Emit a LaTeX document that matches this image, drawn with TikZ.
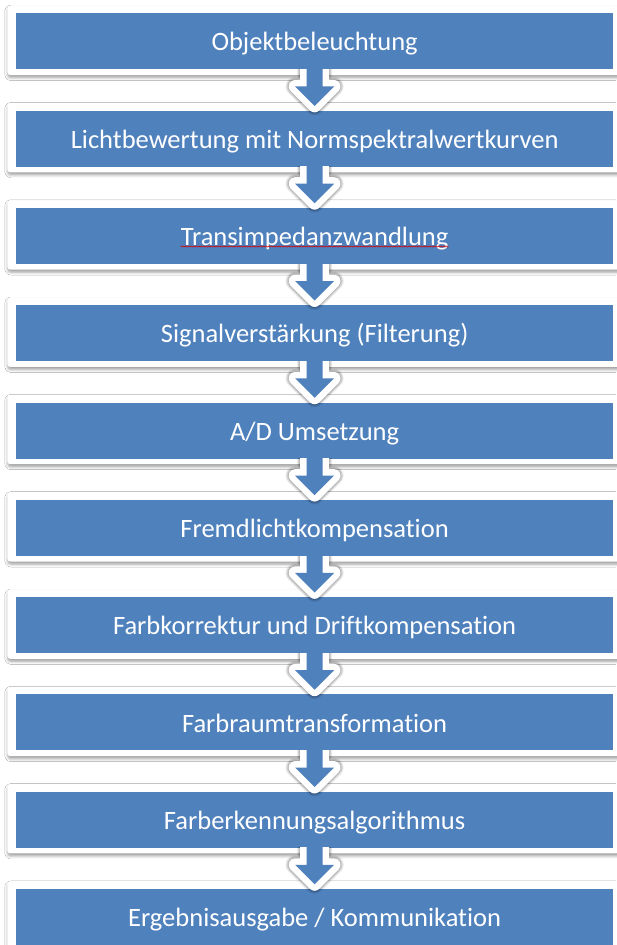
\documentclass[tikz,border=0pt]{standalone}
\usepackage{fontspec}
\setmainfont{Carlito}[Ligatures=NoCommon]
\usetikzlibrary{calc,shadows.blur,decorations.pathmorphing}
\definecolor{boxblue}{RGB}{79,129,189}
\begin{document}
\begin{tikzpicture}[x=1pt,y=1pt,
  frame/.style={fill=white, rounded corners=3pt,
    blur shadow={shadow xshift=0.5pt, shadow yshift=-2.5pt, shadow blur radius=3pt, shadow opacity=40}},
  bluebox/.style={fill=boxblue, draw=none, minimum width=597.3pt, minimum height=56pt, inner sep=0pt},
  steplabel/.style={text=white, font=\fontsize{26.5}{30}\selectfont, anchor=base, inner sep=0pt},
  arrowline/.style={line join=round, line cap=round},
]
\useasboundingbox (0,0) rectangle (616,-945);
\fill[white] (0,0) rectangle (616,-945);

\foreach \txt [count=\i from 0] in {Objektbeleuchtung,
  Lichtbewertung mit Normspektralwertkurven,
  Transimpedanzwandlung,
  {Signalverstärkung (Filterung)},
  A/D Umsetzung,
  Fremdlichtkompensation,
  Farbkorrektur und Driftkompensation,
  Farbraumtransformation,
  Farberkennungsalgorithmus,
  Ergebnisausgabe / Kommunikation}{
  \coordinate (c\i) at (314.6,{-(41.3+97.3*\i)});
  \fill[frame] ($(c\i)+(-307.3,35.6)$) rectangle ($(c\i)+(310,-33.7)$);
  \node[bluebox] (b\i) at (c\i) {};
  \node[steplabel] (t\i) at ($(b\i.center)+(0,-9.6)$) {\txt};
}

% spell-check squiggle
\draw[red!85!black, line width=0.5pt, decorate,
  decoration={snake, amplitude=0.6pt, segment length=2.5pt}]
  ($(t2.base west)+(0,-1)$) -- ($(t2.base east)+(0,-1)$);

\foreach \i [evaluate=\i as \j using int(\i+1)] in {0,...,8}{
  \coordinate (tip\i) at ($(b\j.north)+(0,4.5)$);
  \coordinate (hl\i) at ($(tip\i)+(-19.5,19.5)$);
  \coordinate (hr\i) at ($(tip\i)+(19.5,19.5)$);
  \coordinate (sl\i) at ($(tip\i)+(-8,19.5)$);
  \coordinate (sr\i) at ($(tip\i)+(8,19.5)$);
  \begin{scope}
    \clip ($(b\i.south)+(-70,0)$) rectangle ($(b\i.south)+(70,-60)$);
    \begin{scope}[shift={(1,-3)}]
      \foreach \w/\o in {19/0.08,17/0.1,15/0.12,13/0.14}{
        \draw[arrowline, black, opacity=\o, line width=\w pt]
          ($(b\i.south)+(-8,0)$) -- (sl\i) -- (hl\i) -- (tip\i) -- (hr\i) -- (sr\i) -- ($(b\i.south)+(8,0)$);
      }
    \end{scope}
    \draw[arrowline, white, line width=13pt]
      ($(b\i.south)+(-8,3)$) -- (sl\i) -- (hl\i) -- (tip\i) -- (hr\i) -- (sr\i) -- ($(b\i.south)+(8,3)$);
  \end{scope}
  \fill[boxblue] ($(b\i.south)+(-8,4)$) -- (sl\i) -- (hl\i) -- (tip\i) -- (hr\i) -- (sr\i)
     -- ($(b\i.south)+(8,4)$) -- cycle;
}
\end{tikzpicture}
\end{document}
